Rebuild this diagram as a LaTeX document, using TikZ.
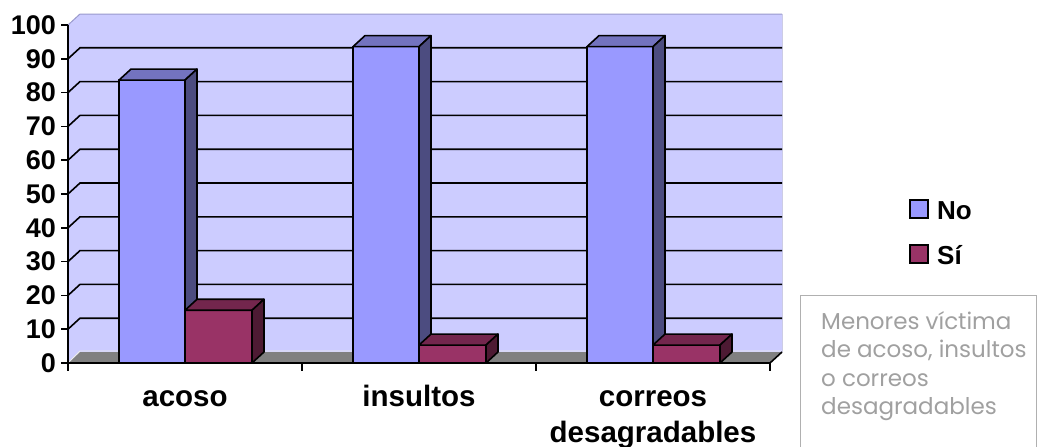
\documentclass[tikz,border=0pt]{standalone}
\usepackage{fontspec}
\setmainfont{Liberation Sans}
\newfontfamily\boxfont{Poppins}
\definecolor{wallc}{HTML}{CCCCFF}
\definecolor{wallline}{HTML}{9999CC}
\definecolor{floorc}{HTML}{808080}
\definecolor{nofront}{HTML}{9999FF}
\definecolor{notop}{HTML}{7373BF}
\definecolor{noside}{HTML}{4C4C80}
\definecolor{sifront}{HTML}{993366}
\definecolor{sitop}{HTML}{73264D}
\definecolor{siside}{HTML}{4D1A33}
\definecolor{boxtext}{HTML}{A0A0A0}
\definecolor{boxline}{HTML}{B0B0B0}
\tikzset{
  grid line/.style={black,line width=1.6pt},
  bar edge/.style={draw=black,line width=1.6pt,line join=round},
  axis line/.style={black,line width=1.6pt},
  ylab/.style={anchor=east,font=\bfseries\fontsize{27}{27}\selectfont,inner sep=0pt},
  catlab/.style={font=\bfseries\fontsize{29.5}{36}\selectfont,align=center,inner sep=0pt},
  leglab/.style={font=\bfseries\fontsize{26}{26}\selectfont,anchor=base west,inner sep=0pt},
  legbox/.style={draw=black,line width=1.6pt},
}
\newcommand\chartbar[6]{%
  \pgfmathsetmacro\ytop{363-#3*3.38}%
  \filldraw[fill=#4,bar edge] (#1,363) rectangle (#2,\ytop);
  \filldraw[fill=#5,bar edge] (#1,\ytop) -- (#1+12,\ytop-11) -- (#2+12,\ytop-11) -- (#2,\ytop) -- cycle;
  \filldraw[fill=#6,bar edge] (#2,363) -- (#2+12,352) -- (#2+12,\ytop-11) -- (#2,\ytop) -- cycle;
}
\begin{document}
\begin{tikzpicture}[x=1pt,y=-1pt]
\useasboundingbox (0,0) rectangle (1037,447);
\clip (0,0) rectangle (1037,447);
% walls
\fill[wallc] (68,363) -- (68,25) -- (80,14) -- (782,14) -- (782,352) -- (80,352) -- cycle;
\draw[wallline,line width=1pt] (68,25) -- (80,14) -- (782,14);
\draw[wallline!50,line width=0.6pt] (782,14) -- (782,352);
% grid lines
\foreach \v in {10,20,...,90}{
  \pgfmathsetmacro\yf{363-\v*3.38}
  \draw[grid line] (68,\yf) -- (80,\yf-11) -- (782,\yf-11);
}
% floor
\fill[floorc] (68,363) -- (80,352) -- (782,352) -- (770,363) -- cycle;
\draw[white!85!gray,line width=0.8pt] (68,363) -- (80,351) -- (782,351);
\draw[axis line] (770,363) -- (782,352);
% bars
\chartbar{119}{185}{83.7}{nofront}{notop}{noside}
\chartbar{185}{252}{15.6}{sifront}{sitop}{siside}
\chartbar{353}{419}{93.6}{nofront}{notop}{noside}
\chartbar{419}{486}{5.3}{sifront}{sitop}{siside}
\chartbar{587}{653}{93.6}{nofront}{notop}{noside}
\chartbar{653}{720}{5.3}{sifront}{sitop}{siside}
% axes
\draw[axis line] (68,25) -- (68,363) -- (770,363);
\foreach \v in {0,10,...,100}{
  \pgfmathsetmacro\yf{363-\v*3.38}
  \draw[axis line] (61,\yf) -- (68,\yf);
  \node[ylab] (y\v) at (56,\yf) {\v};
}
\foreach \x in {68,302,536,770}{
  \draw[axis line] (\x,363) -- (\x,371);
}
% category labels
\node[catlab,anchor=base] (c1) at (185,406) {acoso};
\node[catlab,anchor=base] (c2) at (419,406) {insultos};
\node[catlab,anchor=north] (c3) at (653,390) {correos\\desagradables};
% legend
\draw[legbox,fill=nofront] (910,200) rectangle (928,218);
\node[leglab] (l1) at (937,219) {No};
\draw[legbox,fill=sifront] (910,245) rectangle (928,263);
\node[leglab] (l2) at (937,264) {Sí};
% text box
\draw[boxline,line width=1pt] (800,295) rectangle (1036,470);
\node[anchor=north west,inner sep=0pt,align=left,text=boxtext,
  font=\boxfont\fontsize{23}{28.5}\selectfont] (tb) at (821,311)
  {Menores víctima\\de acoso, insultos\\o correos\\desagradables};
\end{tikzpicture}
\end{document}
